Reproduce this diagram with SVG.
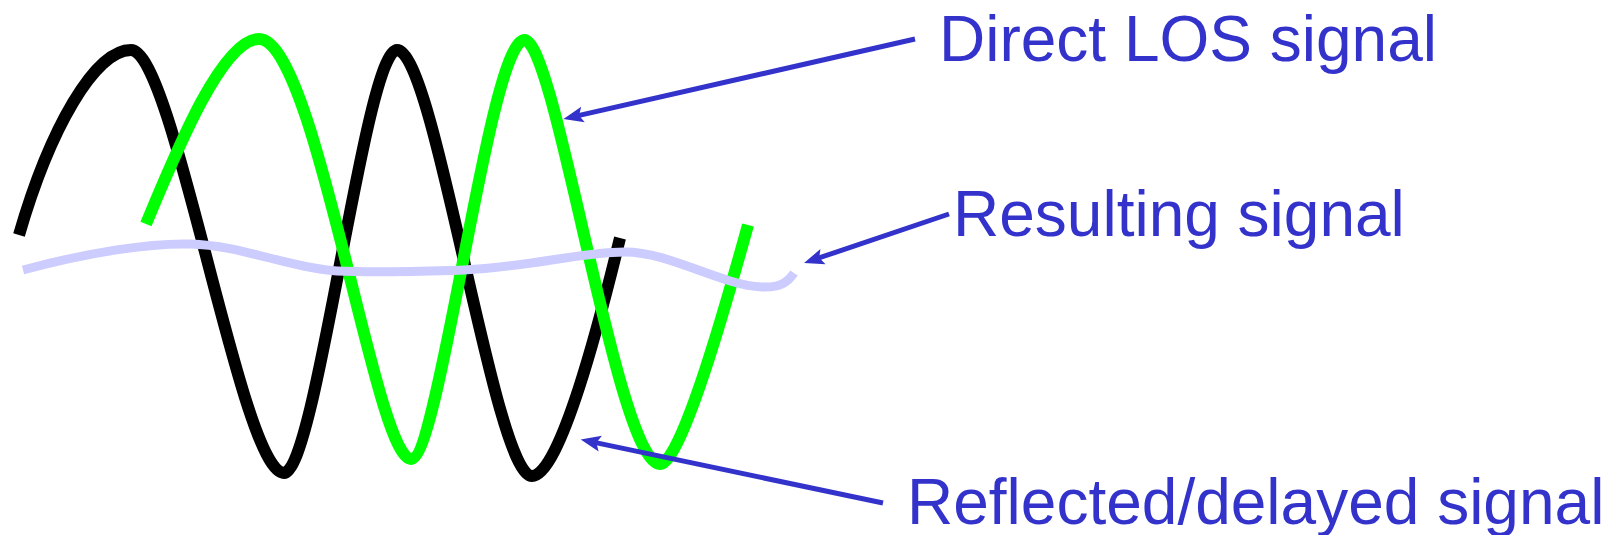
<svg xmlns="http://www.w3.org/2000/svg" width="1604" height="535" viewBox="0 0 1604 535">
<style>
.wave{fill:none;stroke-linejoin:round;stroke-linecap:butt}
.conn{fill:none;stroke:#3333cc;stroke-width:5}
.lbl{font-family:"Liberation Sans",Arial,sans-serif;font-size:64px;fill:#3333cc}
</style>
<defs>
<marker id="ah" markerUnits="userSpaceOnUse" viewBox="-7 -9 22 18" markerWidth="22" markerHeight="18" refX="0" refY="0" orient="auto">
<path d="M14,0 L-6,-8 L-2,0 L-6,8 Z" fill="#3333cc"/>
</marker>
</defs>
<rect width="1604" height="535" fill="#ffffff"/>
<g id="reflected-wave">
<path class="wave" stroke="#000000" stroke-width="12" d="M19,235 C50,128 95,50 131,50 C174,50 241,473 284,473 C316,473 365,50 397,50 C435,50 494,476 532,476 C560,476 600,320 620,238"/>
</g>
<g id="direct-wave">
<path class="wave" stroke="#00ff00" stroke-width="12" d="M146,224 C176,152 222,39 259,39 C316,39 375,459 411,459 C440,459 489,40 524.5,40 C556,40 617,464 660,464 C682,464 730,290 748,225"/>
</g>
<g id="resulting-wave">
<path class="wave" stroke="#ccccff" stroke-width="9" d="M23,270 C90,252 150,243 190,244 C240,245 290,268 337,271 C380,273 430,271 464,270 C530,267 580,252 625,252 C670,252 720,285 762,287 C780,288 788,282 794,273"/>
</g>
<g id="connectors">
<line class="conn" x1="915" y1="39" x2="577.1" y2="115.9" marker-end="url(#ah)"/>
<line class="conn" x1="949" y1="214" x2="817.3" y2="258.5" marker-end="url(#ah)"/>
<line class="conn" x1="883" y1="503" x2="594.4" y2="442.4" marker-end="url(#ah)"/>
</g>
<g id="label-direct">
<text class="lbl" x="939" y="61">Direct LOS signal</text>
</g>
<g id="label-resulting">
<text class="lbl" x="953" y="236">Resulting signal</text>
</g>
<g id="label-reflected">
<text class="lbl" x="907" y="524">Reflected/delayed signal</text>
</g>
</svg>
